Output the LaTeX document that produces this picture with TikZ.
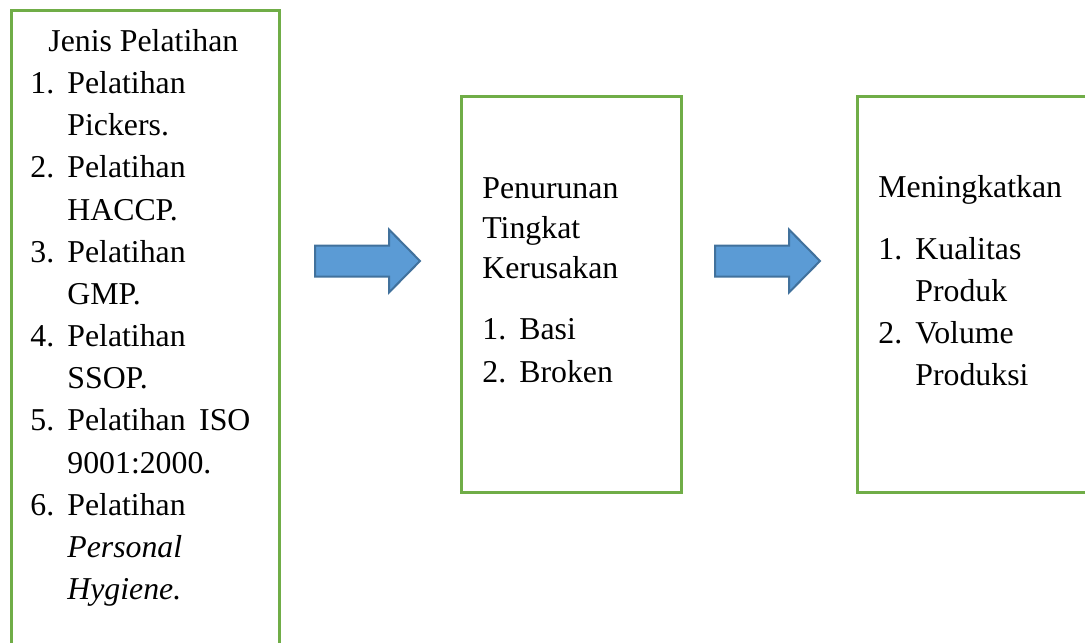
\documentclass[tikz,border=0pt]{standalone}
\usepackage{fontspec}
\setmainfont{Liberation Serif}
\usetikzlibrary{positioning}
\definecolor{box-green}{HTML}{70AD47}
\definecolor{arrow-blue}{HTML}{5B9BD5}
\definecolor{arrow-edge}{HTML}{41719C}
\newcommand{\itemnum}[1]{\makebox[18.5pt][l]{#1}}
\newcommand{\itemgap}{\hspace*{18.5pt}}

\begin{document}
\begin{tikzpicture}
    [x=0.5pt, y=-0.5pt,
    box/.style = {rectangle, draw=box-green, line width=1.5pt, inner sep=0pt},
    txt/.style = {anchor=north west, inner sep=0pt, align=left,
            font=\fontsize{15.9}{21.08}\selectfont},
    pics/blockarrow/.style = {code={
        \draw[draw=arrow-edge, fill=arrow-blue, line width=1pt, line join=miter]
            (0,-15.5) -- (74,-15.5) -- (74,-31.5) -- (105,0)
            -- (74,31.5) -- (74,15.5) -- (0,15.5) -- cycle;}},
    ]
    \useasboundingbox (0,0) rectangle (1085,642);
    \clip (0,0) rectangle (1085,642);

    \node[box, minimum width=134pt, minimum height=324.5pt] (jenis) at (145, 335.5) {};
    \node[box, minimum width=110pt, minimum height=197.5pt] (rusak) at (571, 294.5) {};
    \node[box, minimum width=121.5pt, minimum height=197.5pt] (naik) at (978.5, 294.5) {};

    \node[txt] (jenis-text) at (30, 21.5) {\strut\hspace*{9pt}Jenis Pelatihan\\
        \itemnum{1.}Pelatihan\\
        \itemgap Pickers.\\
        \itemnum{2.}Pelatihan\\
        \itemgap HACCP.\\
        \itemnum{3.}Pelatihan\\
        \itemgap GMP.\\
        \itemnum{4.}Pelatihan\\
        \itemgap SSOP.\\
        \itemnum{5.}\makebox[91.5pt][s]{Pelatihan ISO}\\
        \itemgap 9001:2000.\\
        \itemnum{6.}Pelatihan\\
        \itemgap\textit{Personal}\\
        \itemgap\textit{Hygiene.}};

    \node[txt, font=\fontsize{15.9}{20}\selectfont] (rusak-text) at (482, 170) {\strut Penurunan\\
        Tingkat\\
        Kerusakan\\[10.5pt]
        \itemnum{1.}Basi\\[1.5pt]
        \itemnum{2.}Broken};

    \node[txt, font=\fontsize{15.9}{21}\selectfont] (naik-text) at (878, 167.6) {\strut Meningkatkan\\[10pt]
        \itemnum{1.}Kualitas\\
        \itemgap Produk\\
        \itemnum{2.}Volume\\
        \itemgap Produksi};

    \pic at (315, 261) {blockarrow};
    \pic at (715, 261) {blockarrow};
\end{tikzpicture}
\end{document}
